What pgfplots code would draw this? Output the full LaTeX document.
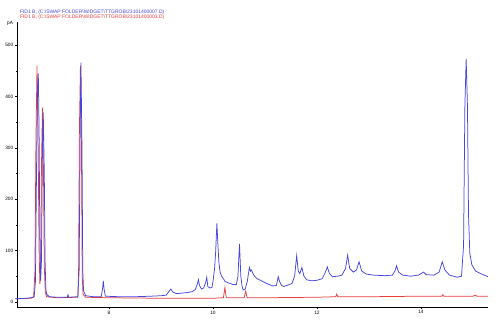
\documentclass[border=0pt]{standalone}
\usepackage{pgfplots}
\pgfplotsset{compat=1.18}
\usepackage{fontspec}
\setmainfont{Liberation Sans}
\definecolor{fidblue}{RGB}{70,70,225}
\definecolor{fidred}{RGB}{232,60,60}
\begin{document}
\begin{tikzpicture}
\begin{axis}[
  at={(0,0)}, anchor=south west,
  scale only axis, width=471bp, height=285bp,
  xmin=6.23, xmax=15.29, ymin=-10, ymax=545,
  axis x line*=bottom, axis y line*=left,
  axis line style={black, line width=0.5pt},
  xtick={8,10,12,14}, minor x tick num=3,
  ytick={0,100,200,300,400,500}, minor y tick num=1,
  tick align=outside, major tick length=2pt, minor tick length=1.2pt,
  tick style={black, line width=0.4pt},
  ticklabel style={font=\fontsize{4.8}{5}\selectfont, inner sep=1.5pt},
  /pgf/number format/assume math mode=true,
  clip=false,
]
\addplot[fidred, line width=0.75pt] coordinates {
(6.20,6) (6.50,7) (6.55,9) (6.575,60) (6.595,320) (6.615,460) (6.635,320) (6.655,100) (6.67,35)
(6.685,70) (6.70,260) (6.72,378) (6.74,250) (6.755,70) (6.775,18) (6.80,10) (7.00,8)
(7.40,9) (7.415,60) (7.43,330) (7.45,460) (7.47,300) (7.485,50) (7.50,15) (7.55,9)
(8.00,8) (9.00,7) (10.00,7) (10.20,8) (10.215,18) (10.23,28) (10.245,15) (10.26,8)
(10.60,8) (10.615,15) (10.63,21) (10.645,13) (10.66,8) (11.00,8) (12.00,9)
(12.36,10) (12.38,15) (12.40,10) (13.00,10) (14.00,11) (14.40,11) (14.42,14) (14.44,11)
(15.00,11) (15.05,13) (15.08,11) (15.29,11)
};
\addplot[fidblue, line width=0.75pt] coordinates {
(6.20,6) (6.40,7) (6.50,8) (6.56,10) (6.585,40) (6.605,250) (6.625,420) (6.64,445) (6.655,330)
(6.67,120) (6.685,40) (6.70,80) (6.72,300) (6.735,369) (6.755,250) (6.77,80) (6.785,25)
(6.80,15) (6.85,10) (7.00,9) (7.20,9) (7.21,14) (7.23,9) (7.40,10) (7.425,60) (7.445,330)
(7.46,466) (7.48,300) (7.495,60) (7.51,22) (7.55,12) (7.70,10) (7.85,10) (7.875,25)
(7.89,41) (7.905,25) (7.93,11) (8.20,10) (8.50,10) (8.80,11) (9.00,12) (9.10,13)
(9.15,20) (9.19,25) (9.23,19) (9.30,16) (9.40,17) (9.50,18) (9.60,20) (9.66,24)
(9.70,35) (9.72,43) (9.74,32) (9.78,25) (9.82,27) (9.86,38) (9.88,48) (9.90,30)
(9.94,27) (9.98,28) (10.00,40) (10.03,64) (10.05,95) (10.075,153) (10.095,110)
(10.115,75) (10.14,57) (10.17,49) (10.20,45) (10.23,40) (10.27,38) (10.32,36)
(10.38,34) (10.45,34) (10.48,50) (10.51,113) (10.535,50) (10.56,30) (10.58,23)
(10.62,25) (10.66,40) (10.70,67) (10.72,60) (10.74,62) (10.77,55) (10.80,50)
(10.85,45) (10.95,40) (11.05,35) (11.15,31) (11.22,32) (11.255,49) (11.28,40)
(11.32,32) (11.36,30) (11.45,33) (11.52,36) (11.57,50) (11.61,90) (11.64,60)
(11.67,55) (11.71,67) (11.75,50) (11.80,43) (11.90,41) (12.00,42) (12.10,45)
(12.15,55) (12.20,68) (12.24,55) (12.30,49) (12.40,50) (12.48,52) (12.55,65)
(12.59,91) (12.63,65) (12.70,58) (12.76,62) (12.81,78) (12.86,60) (12.95,54)
(13.10,52) (13.30,51) (13.45,52) (13.50,60) (13.53,70) (13.57,58) (13.65,52)
(13.80,50) (13.95,52) (14.05,58) (14.10,53) (14.25,52) (14.35,58) (14.41,78)
(14.46,62) (14.55,52) (14.70,48) (14.78,50) (14.82,110) (14.845,380) (14.87,473)
(14.895,380) (14.915,170) (14.94,95) (14.98,72) (15.05,60) (15.15,55) (15.29,49)
};
\node[anchor=east, font=\fontsize{4.8}{5}\selectfont, inner sep=1pt] at (axis description cs:-0.006,0.995) {pA};
\node[anchor=west, text=fidblue, font=\fontsize{5}{5}\selectfont, inner sep=0pt] at (axis description cs:0.006,1.036) {FID1 B, (C:\textbackslash SWAP FOLDER\textbackslash WIDGET\textbackslash TTGROB\textbackslash 23101400007.D)};
\node[anchor=west, text=fidred, font=\fontsize{5}{5}\selectfont, inner sep=0pt] at (axis description cs:0.006,1.017) {FID1 B, (C:\textbackslash SWAP FOLDER\textbackslash WIDGET\textbackslash TTGROB\textbackslash 23101400003.D)};
\end{axis}
\path[use as bounding box] (-17bp,-18bp) rectangle (483bp,307bp);
\end{tikzpicture}
\end{document}
